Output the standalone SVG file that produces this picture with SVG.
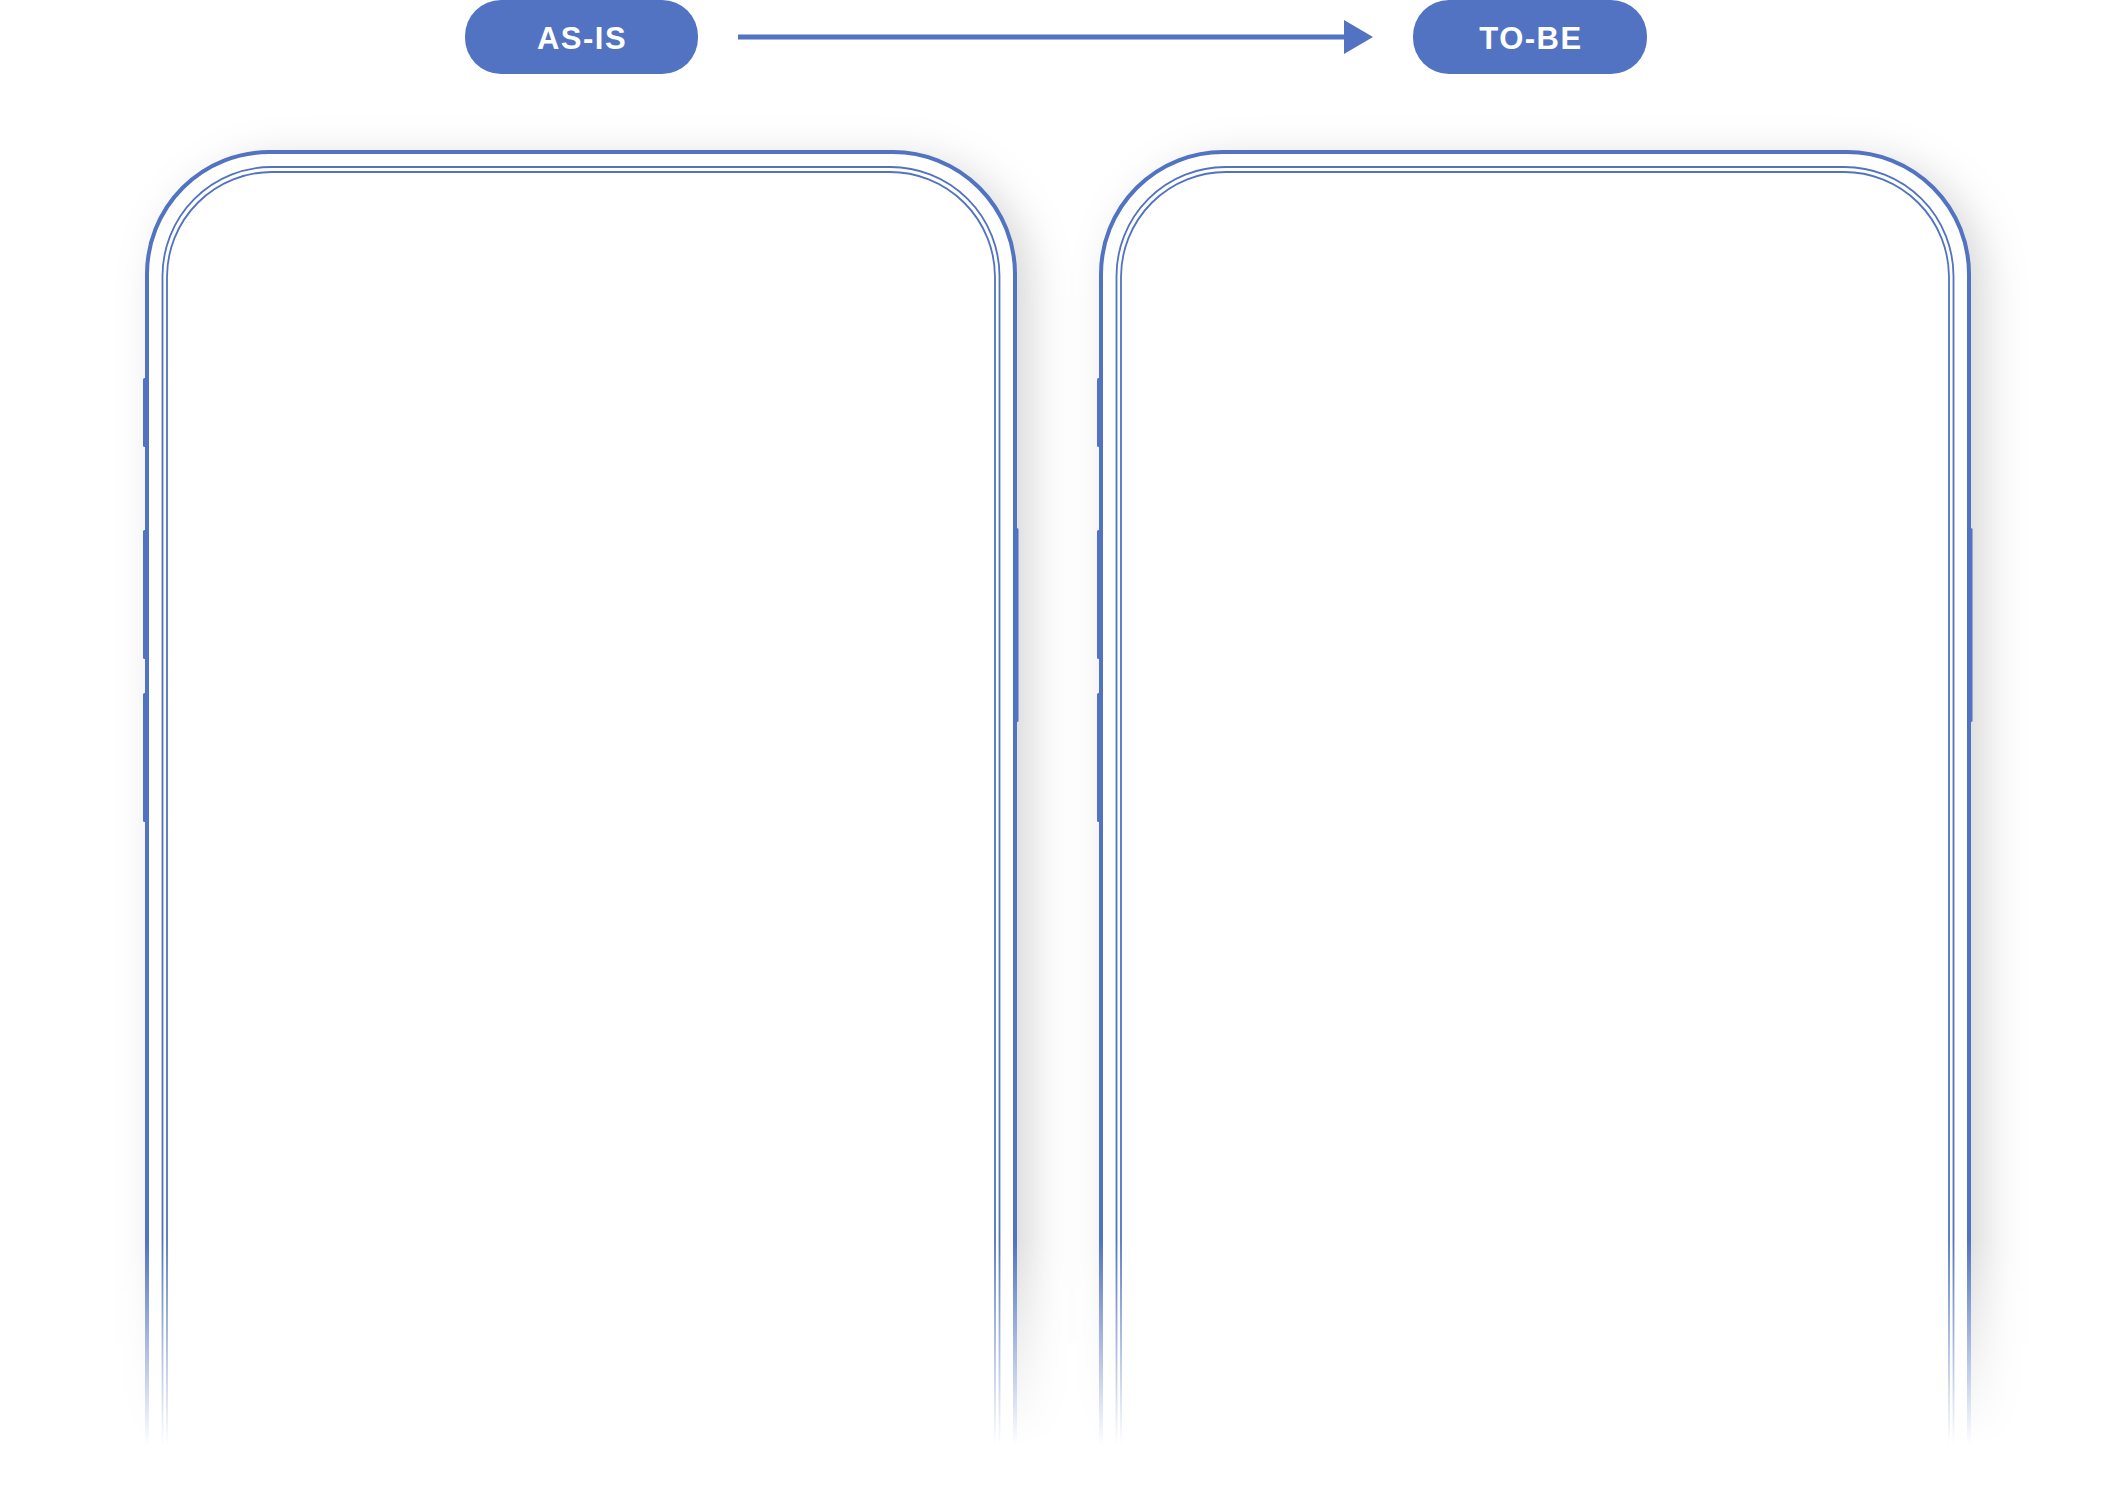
<svg xmlns="http://www.w3.org/2000/svg" xmlns:xlink="http://www.w3.org/1999/xlink" width="2113" height="1504" viewBox="0 0 2113 1504">
  <style>
    .pill { fill: #5173c1; }
    .pill-text { fill: #ffffff; font-family: "Liberation Sans", Arial, sans-serif; font-weight: bold; font-size: 31px; letter-spacing: 1.5px; text-anchor: middle; }
    .frame-outer { fill: none; stroke: #5173c1; stroke-width: 4; }
    .frame-inner { fill: none; stroke: #5173c1; stroke-width: 1.8; }
    .body { fill: #ffffff; }
    .btn { fill: #5173c1; }
    .conn { stroke: #5173c1; stroke-width: 5; fill: none; }
  </style>
  <defs>
    <filter id="shadow" x="-20%" y="-20%" width="140%" height="140%">
      <feDropShadow dx="14" dy="10" stdDeviation="22" flood-color="#000000" flood-opacity="0.17"/>
    </filter>
    <linearGradient id="fadeGrad" gradientUnits="userSpaceOnUse" x1="0" y1="1240" x2="0" y2="1445">
      <stop offset="0" stop-color="#ffffff"/>
      <stop offset="1" stop-color="#000000"/>
    </linearGradient>
    <mask id="fade" maskUnits="userSpaceOnUse" x="0" y="0" width="2113" height="1504">
      <rect x="0" y="0" width="2113" height="1504" fill="url(#fadeGrad)"/>
    </mask>
    <marker id="arrowhead" markerUnits="userSpaceOnUse" markerWidth="30" markerHeight="34" refX="0" refY="17" orient="auto">
      <polygon points="0,0 29,17 0,34" fill="#5173c1"/>
    </marker>
    <g id="phone">
      <path class="body" filter="url(#shadow)" d="M147,1460 L147,274 A122,122 0 0 1 269,152 L893,152 A122,122 0 0 1 1015,274 L1015,1460 Z"/>
      <path class="frame-outer" d="M147,1460 L147,274 A122,122 0 0 1 269,152 L893,152 A122,122 0 0 1 1015,274 L1015,1460"/>
      <path class="frame-inner" d="M162.5,1460 L162.5,276 A109,109 0 0 1 271.5,167 L890.5,167 A109,109 0 0 1 999.5,276 L999.5,1460"/>
      <path class="frame-inner" d="M167,1460 L167,277 A105,105 0 0 1 272,172 L890,172 A105,105 0 0 1 995,277 L995,1460"/>
      <rect class="btn" x="143" y="378" width="5.5" height="69" rx="1.5"/>
      <rect class="btn" x="143" y="530" width="5.5" height="129" rx="1.5"/>
      <rect class="btn" x="143" y="693" width="5.5" height="129" rx="1.5"/>
      <rect class="btn" x="1013.5" y="528" width="5" height="194" rx="1.5"/>
    </g>
  </defs>

  <rect x="0" y="0" width="2113" height="1504" fill="#ffffff"/>

  <g id="phone-as-is" mask="url(#fade)">
    <use xlink:href="#phone" href="#phone"/>
  </g>
  <g id="phone-to-be" transform="translate(954,0)">
    <g mask="url(#fade)">
      <use xlink:href="#phone" href="#phone"/>
    </g>
  </g>

  <g id="connectors">
    <line class="conn" x1="738" y1="37" x2="1344" y2="37" marker-end="url(#arrowhead)"/>
  </g>

  <g id="as-is">
    <rect class="pill" x="465" y="0" width="233" height="74" rx="36"/>
    <text class="pill-text" x="582" y="49">AS-IS</text>
  </g>
  <g id="to-be">
    <rect class="pill" x="1413" y="0" width="234" height="74" rx="36"/>
    <text class="pill-text" x="1531" y="49">TO-BE</text>
  </g>
</svg>
